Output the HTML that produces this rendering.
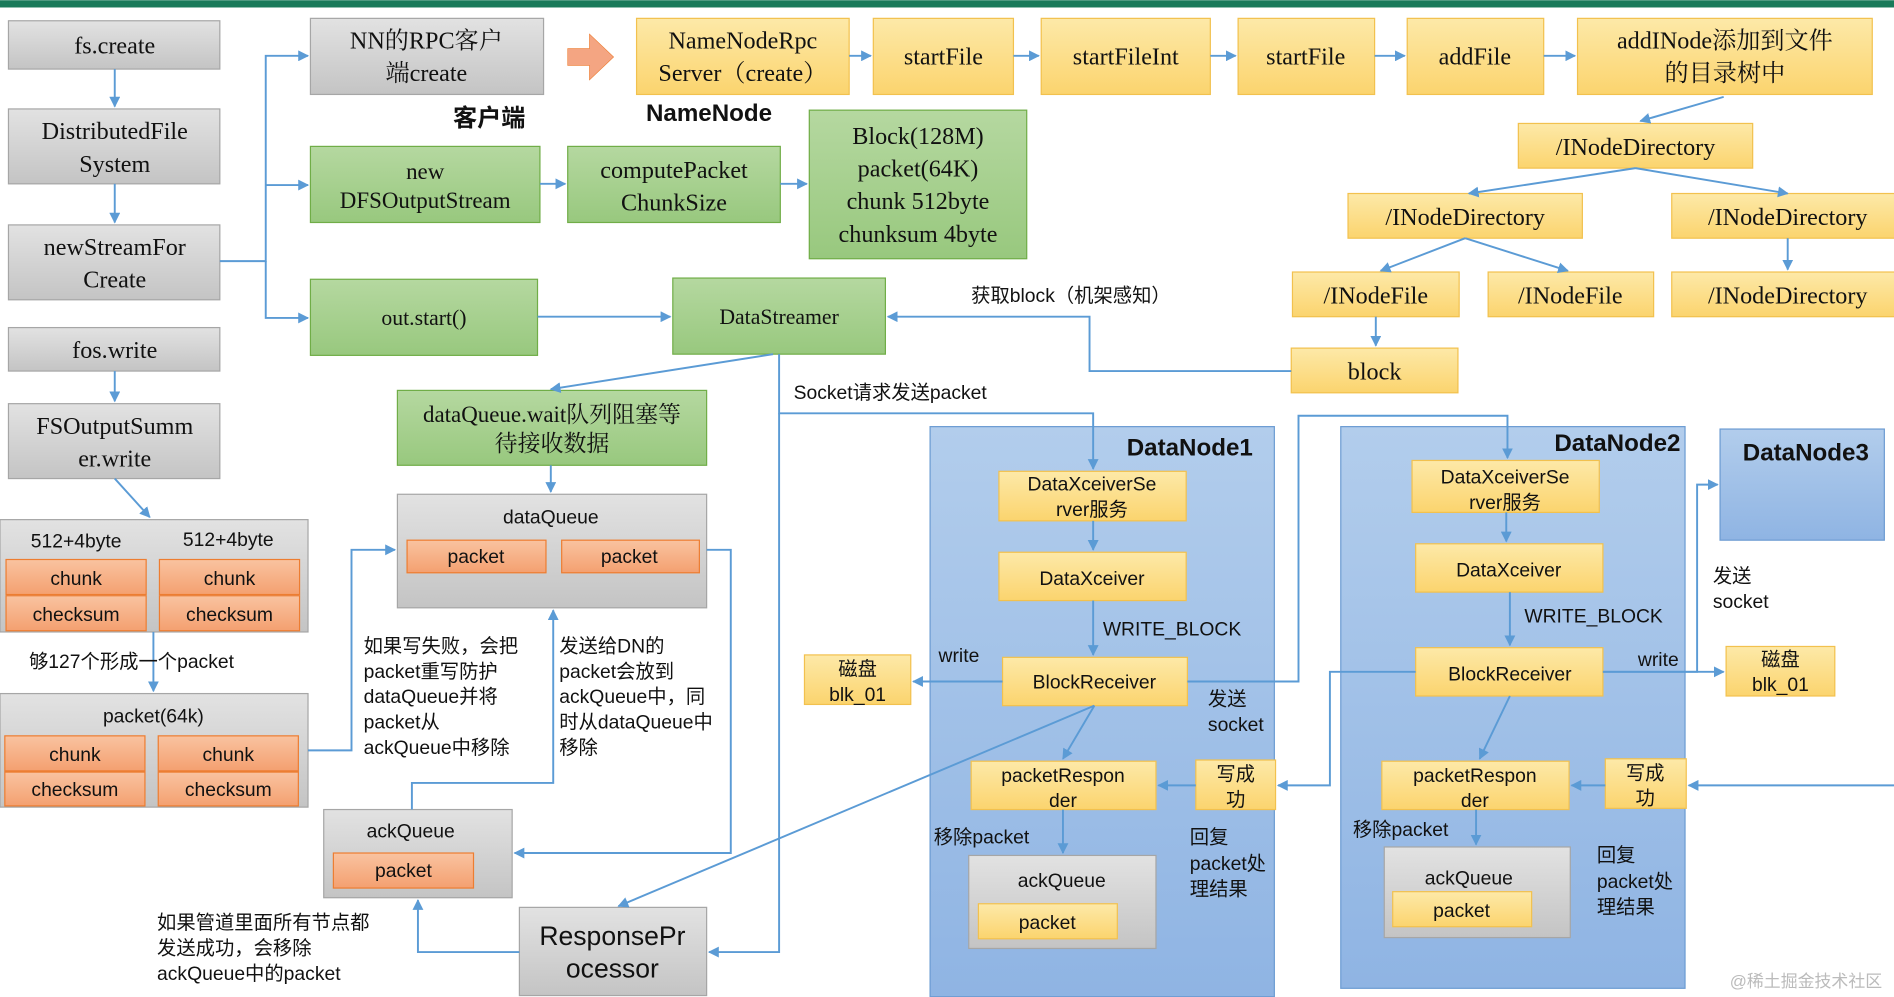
<!DOCTYPE html>
<html><head><meta charset="utf-8"><style>
html,body{margin:0;padding:0;background:#fff;overflow:hidden}
svg{display:block}
.se{font-family:"Liberation Serif","Noto Serif CJK SC",serif;font-size:20px;fill:#111}
.sa{font-family:"Liberation Sans","Noto Sans CJK SC",sans-serif;font-size:16px;fill:#111}
.b{font-family:"Liberation Sans","Noto Sans CJK SC",sans-serif;font-weight:bold;font-size:20px;fill:#111}
.ln{stroke:#5b9bd5;stroke-width:1.6;fill:none}
</style></head><body>
<svg width="1894" height="997" viewBox="0 0 1568 825" xmlns="http://www.w3.org/2000/svg">
<defs>
<linearGradient id="gg" x1="0" y1="0" x2="0" y2="1"><stop offset="0" stop-color="#e2e2e2"/><stop offset="1" stop-color="#c4c4c4"/></linearGradient>
<linearGradient id="gy" x1="0" y1="0" x2="0" y2="1"><stop offset="0" stop-color="#fde9a8"/><stop offset="1" stop-color="#fbd46e"/></linearGradient>
<linearGradient id="gn" x1="0" y1="0" x2="0" y2="1"><stop offset="0" stop-color="#b5d8a0"/><stop offset="1" stop-color="#98c87e"/></linearGradient>
<linearGradient id="go" x1="0" y1="0" x2="0" y2="1"><stop offset="0" stop-color="#f9c3a0"/><stop offset="1" stop-color="#f4a070"/></linearGradient>
<linearGradient id="gb" x1="0" y1="0" x2="0" y2="1"><stop offset="0" stop-color="#b2cdec"/><stop offset="1" stop-color="#8fb4e3"/></linearGradient>
<marker id="a" viewBox="0 0 10 10" refX="9" refY="5" markerWidth="9" markerHeight="9" markerUnits="userSpaceOnUse" orient="auto"><path d="M0,0L10,5L0,10z" fill="#5b9bd5"/></marker>
<marker id="A" viewBox="0 0 10 10" refX="9" refY="5" markerWidth="14" markerHeight="14" markerUnits="userSpaceOnUse" orient="auto"><path d="M0,0L10,5L0,10z" fill="#5b9bd5"/></marker>
</defs>
<rect x="0" y="0" width="1568" height="6" fill="#1a7a5a"/>
<g stroke="#a6a6a6" fill="url(#gg)">
<rect x="7" y="17" width="175" height="40"/><rect x="7" y="90" width="175" height="62"/><rect x="7" y="186" width="175" height="62"/>
<rect x="7" y="271" width="175" height="36"/><rect x="7" y="334" width="175" height="62"/><rect x="257" y="15" width="193" height="63"/>
<rect x="0" y="430" width="255" height="93"/><rect x="0" y="574" width="255" height="94"/>
<rect x="329" y="409" width="256" height="94"/><rect x="268" y="670" width="156" height="73"/><rect x="430" y="751" width="155" height="73"/>
</g>
<g stroke="#f2c14e" fill="url(#gy)">
<rect x="527" y="15" width="176" height="63"/><rect x="723" y="15" width="116" height="63"/><rect x="862" y="15" width="140" height="63"/>
<rect x="1025" y="15" width="113" height="63"/><rect x="1165" y="15" width="113" height="63"/><rect x="1306" y="15" width="244" height="63"/>
<rect x="1257" y="102" width="194" height="37"/><rect x="1116" y="160" width="194" height="37"/><rect x="1384" y="160" width="190" height="37"/>
<rect x="1070" y="225" width="138" height="37"/><rect x="1232" y="225" width="137" height="37"/><rect x="1384" y="225" width="190" height="37"/>
<rect x="1069" y="288" width="138" height="37"/>
</g>
<g stroke="#70ad47" fill="url(#gn)">
<rect x="257" y="121" width="190" height="63"/><rect x="470" y="121" width="176" height="63"/><rect x="670" y="91" width="180" height="123"/>
<rect x="257" y="231" width="188" height="63"/><rect x="557" y="230" width="176" height="63"/><rect x="329" y="323" width="256" height="62"/>
</g>
<g stroke="#ed7d31" fill="url(#go)">
<rect x="5" y="463" width="116" height="29"/><rect x="132" y="463" width="116" height="29"/><rect x="5" y="493" width="116" height="29"/><rect x="132" y="493" width="116" height="29"/>
<rect x="4" y="609" width="116" height="29"/><rect x="131" y="609" width="116" height="29"/><rect x="4" y="639" width="116" height="28"/><rect x="131" y="639" width="116" height="28"/>
<rect x="337" y="447" width="115" height="27"/><rect x="465" y="447" width="114" height="27"/><rect x="276" y="706" width="116" height="29"/>
</g>
<path d="M470,40h18v-12l20,19l-20,19v-12h-18z" fill="#f4a582" stroke="#ed7d31" stroke-width="0.5"/>
<g stroke="#6b9bd2" fill="url(#gb)">
<rect x="770" y="353" width="285" height="472"/><rect x="1110" y="353" width="285" height="465"/><rect x="1424" y="355" width="136" height="92"/>
</g>
<g stroke="#f2c14e" fill="url(#gy)">
<rect x="827" y="390" width="155" height="41"/><rect x="827" y="457" width="155" height="40"/><rect x="830" y="544" width="153" height="40"/>
<rect x="666" y="542" width="88" height="41"/><rect x="804" y="630" width="153" height="40"/><rect x="990" y="629" width="66" height="41"/>
<rect x="810" y="748" width="115" height="29"/>
<rect x="1169" y="381" width="155" height="43"/><rect x="1172" y="450" width="155" height="40"/><rect x="1172" y="536" width="155" height="40"/>
<rect x="1429" y="535" width="90" height="41"/><rect x="1144" y="630" width="155" height="40"/><rect x="1329" y="628" width="67" height="41"/>
</g>
<g stroke="#a6a6a6" fill="url(#gg)"><rect x="802" y="708" width="155" height="77"/><rect x="1146" y="701" width="154" height="75"/></g>
<g stroke="#f2c14e" fill="url(#gy)"><rect x="810" y="748" width="115" height="29"/><rect x="1153" y="738" width="115" height="29"/></g>
<!-- lines -->
<g class="ln" marker-end="url(#a)">
<path d="M95,57V88"/><path d="M95,152V184"/><path d="M95,307V332"/><path d="M95,396L124,428"/>
<path d="M182,216H220V46H255"/><path d="M220,153H255"/><path d="M220,216V263H255"/>
<path d="M703,46H721"/><path d="M839,46H860"/><path d="M1002,46H1023"/><path d="M1138,46H1163"/><path d="M1278,46H1304"/>
<path d="M447,152H468"/><path d="M646,152H668"/><path d="M445,262H555"/>
<path d="M1427,80L1358,100"/><path d="M1354,139L1216,160"/><path d="M1354,139L1480,160"/>
<path d="M1213,197L1143,224"/><path d="M1213,197L1298,224"/><path d="M1480,197V223"/><path d="M1139,262V286"/>
<path d="M1069,307H902V262H735"/>
<path d="M640,293L456,322"/><path d="M456,385V407"/>
<path d="M645,293V342H905V388"/><path d="M645,342V788H587"/>
<path d="M255,621H291V455H327"/><path d="M585,455H605V706H426"/><path d="M341,670V648H458V505"/>
<path d="M430,788H346V745"/><path d="M906,584L512,750"/><path d="M127,523V572"/>
<path d="M905,431V455"/><path d="M905,497V542"/><path d="M830,564H756"/><path d="M906,584L880,628"/><path d="M880,670V706"/>
<path d="M990,650H959"/><path d="M983,564H1075V344H1248V379"/>
<path d="M1247,424V448"/><path d="M1250,490V534"/><path d="M1327,556H1427"/><path d="M1172,556H1101V650H1058"/>
<path d="M1250,576L1225,628"/><path d="M1222,670V699"/><path d="M1329,650H1301"/><path d="M1568,650H1398"/><path d="M1327,556H1405V401H1422"/>
</g>
<!-- serif labels -->
<g class="se" text-anchor="middle">
<text x="95" y="44">fs.create</text><text x="95" y="115">DistributedFile</text><text x="95" y="142">System</text>
<text x="95" y="211">newStreamFor</text><text x="95" y="238">Create</text><text x="95" y="296">fos.write</text>
<text x="95" y="359">FSOutputSumm</text><text x="95" y="386">er.write</text>
<text x="353" y="40">NN的RPC客户</text><text x="353" y="67">端create</text>
<text x="615" y="40">NameNodeRpc</text><text x="615" y="67">Server（create）</text>
<text x="781" y="53">startFile</text><text x="932" y="53">startFileInt</text><text x="1081" y="53">startFile</text><text x="1221" y="53">addFile</text>
<text x="1428" y="40">addINode添加到文件</text><text x="1428" y="67">的目录树中</text>
<text x="352" y="148" font-size="19">new</text><text x="352" y="172" font-size="19">DFSOutputStream</text>
<text x="558" y="147">computePacket</text><text x="558" y="174">ChunkSize</text>
<text x="760" y="119">Block(128M)</text><text x="760" y="146">packet(64K)</text><text x="760" y="173">chunk 512byte</text><text x="760" y="200">chunksum 4byte</text>
<text x="351" y="269" font-size="18">out.start()</text><text x="645" y="268" font-size="18">DataStreamer</text>
<text x="457" y="349" font-size="19">dataQueue.wait队列阻塞等</text><text x="457" y="373" font-size="19">待接收数据</text>
<text x="1354" y="128">/INodeDirectory</text><text x="1213" y="186">/INodeDirectory</text><text x="1480" y="186">/INodeDirectory</text>
<text x="1139" y="251">/INodeFile</text><text x="1300" y="251">/INodeFile</text><text x="1480" y="251">/INodeDirectory</text><text x="1138" y="314">block</text>
</g>
<text class="b" x="405" y="104" text-anchor="middle">客户端</text>
<text class="b" x="587" y="100" text-anchor="middle">NameNode</text>
<text class="b" x="985" y="377" text-anchor="middle">DataNode1</text>
<text class="b" x="1339" y="373" text-anchor="middle">DataNode2</text>
<text class="b" x="1495" y="381" text-anchor="middle">DataNode3</text>
<g class="sa" text-anchor="middle">
<text x="63" y="453">512+4byte</text><text x="189" y="452">512+4byte</text>
<text x="63" y="484">chunk</text><text x="190" y="484">chunk</text><text x="63" y="514">checksum</text><text x="190" y="514">checksum</text>
<text x="127" y="598">packet(64k)</text>
<text x="62" y="630">chunk</text><text x="189" y="630">chunk</text><text x="62" y="659">checksum</text><text x="189" y="659">checksum</text>
<text x="456" y="433">dataQueue</text><text x="394" y="466">packet</text><text x="521" y="466">packet</text>
<text x="340" y="693">ackQueue</text><text x="334" y="726">packet</text>
<text x="507" y="782" font-size="22">ResponsePr</text><text x="507" y="809" font-size="22">ocessor</text>
<text x="904" y="406">DataXceiverSe</text><text x="904" y="427">rver服务</text><text x="904" y="484">DataXceiver</text>
<text x="906" y="570">BlockReceiver</text><text x="710" y="559">磁盘</text><text x="710" y="580">blk_01</text>
<text x="880" y="647">packetRespon</text><text x="880" y="668">der</text><text x="1023" y="646">写成</text><text x="1023" y="667">功</text>
<text x="879" y="734">ackQueue</text><text x="867" y="769">packet</text>
<text x="1246" y="400">DataXceiverSe</text><text x="1246" y="421">rver服务</text><text x="1249" y="477">DataXceiver</text>
<text x="1250" y="563">BlockReceiver</text><text x="1474" y="551">磁盘</text><text x="1474" y="572">blk_01</text>
<text x="1221" y="647">packetRespon</text><text x="1221" y="668">der</text><text x="1362" y="645">写成</text><text x="1362" y="666">功</text>
<text x="1216" y="732">ackQueue</text><text x="1210" y="759">packet</text>
</g>
<g class="sa">
<text x="24" y="553">够127个形成一个packet</text>
<text x="301" y="540">如果写失败，会把</text><text x="301" y="561">packet重写防护</text><text x="301" y="582">dataQueue并将</text><text x="301" y="603">packet从</text><text x="301" y="624">ackQueue中移除</text>
<text x="463" y="540">发送给DN的</text><text x="463" y="561">packet会放到</text><text x="463" y="582">ackQueue中，同</text><text x="463" y="603">时从dataQueue中</text><text x="463" y="624">移除</text>
<text x="130" y="769">如果管道里面所有节点都</text><text x="130" y="790">发送成功，会移除</text><text x="130" y="811">ackQueue中的packet</text>
<text x="804" y="250">获取block（机架感知）</text><text x="657" y="330">Socket请求发送packet</text>
<text x="913" y="526">WRITE_BLOCK</text><text x="777" y="548">write</text><text x="1000" y="584">发送</text><text x="1000" y="605">socket</text>
<text x="773" y="698">移除packet</text><text x="985" y="698">回复</text><text x="985" y="720">packet处</text><text x="985" y="741">理结果</text>
<text x="1262" y="515">WRITE_BLOCK</text><text x="1356" y="551">write</text><text x="1418" y="482">发送</text><text x="1418" y="503">socket</text>
<text x="1120" y="692">移除packet</text><text x="1322" y="713">回复</text><text x="1322" y="735">packet处</text><text x="1322" y="756">理结果</text>
<text x="1432" y="817" font-size="14" fill="#bbb" style="fill:#bbb">@稀土掘金技术社区</text>
</g>
</svg>
</body></html>
